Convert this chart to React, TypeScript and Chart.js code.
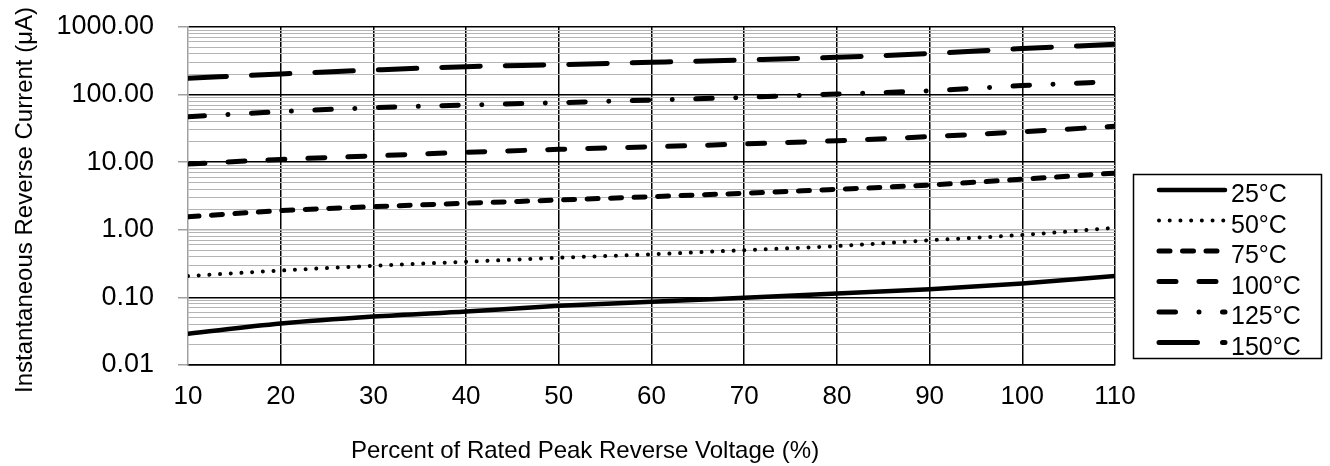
import React, { useEffect, useRef } from 'react';
import { Chart, registerables } from 'chart.js';

Chart.register(...registerables);

// ---------- data ----------
const voltagePct = [10, 20, 30, 40, 50, 60, 70, 80, 90, 100, 110];
const seriesLabels = ['25°C', '50°C', '75°C', '100°C', '125°C', '150°C'];
const current25 = [0.029, 0.041, 0.052, 0.062, 0.075, 0.086, 0.099, 0.114, 0.132, 0.161, 0.207];
const current50 = [0.207, 0.25, 0.294, 0.337, 0.386, 0.434, 0.5, 0.575, 0.7, 0.84, 1.07];
const current75 = [1.56, 1.92, 2.2, 2.47, 2.76, 3.09, 3.47, 3.97, 4.6, 5.6, 6.9];
const current100 = [9.4, 11.0, 12.4, 14.0, 15.5, 16.9, 18.6, 20.8, 23.9, 28.2, 34];
const current125 = [47, 56, 64, 70, 76, 83, 91, 102, 114, 136, 156];
const current150 = [174, 202, 231, 259, 277, 300, 325, 356, 405, 479, 557];
const yMajorTicks = [0.01, 0.1, 1, 10, 100, 1000];
const yMinorMultipliers = [2, 3, 4, 5, 6, 7, 8, 9];
const xTickValues = [10, 20, 30, 40, 50, 60, 70, 80, 90, 100, 110];
const yTitle = 'Instantaneous Reverse Current (μA)';
const xTitle = 'Percent of Rated Peak Reverse Voltage (%)';

const allSeries = [current25, current50, current75, current100, current125, current150];

// ---------- styles ----------
const FONT = '"Liberation Sans", Arial, sans-serif';
const lineStyles = [
  { width: 4.5, dash: [] as number[] },
  { width: 4, dash: [0.01, 10.7] },
  { width: 5, dash: [11, 12.5] },
  { width: 5, dash: [17, 23] },
  { width: 5, dash: [16.5, 23.5, 0.01, 23.5] },
  { width: 5, dash: [38.5, 25] },
];
const GRID_MINOR = '#b4b4b4';
const GRID_MAJOR = '#000000';
const AXIS_GRAY = '#a0a0a0';

const yTickList: number[] = (() => {
  const out: number[] = [];
  for (let i = 0; i < yMajorTicks.length; i++) {
    const base = yMajorTicks[i];
    out.push(base);
    if (i < yMajorTicks.length - 1) {
      for (const m of yMinorMultipliers) out.push(Number((base * m).toPrecision(6)));
    }
  }
  return out;
})();

const isMajorY = (v: number) => yMajorTicks.includes(v);

const overlayPlugin = {
  id: 'overlayText',
  afterDraw(chart: any) {
    const ctx = chart.ctx as CanvasRenderingContext2D;
    ctx.save();
    // y title
    ctx.fillStyle = '#000';
    ctx.font = `24px ${FONT}`;
    ctx.textAlign = 'center';
    ctx.textBaseline = 'alphabetic';
    ctx.save();
    ctx.translate(32, 200);
    ctx.rotate(-Math.PI / 2);
    ctx.fillText(yTitle, 0, 0);
    ctx.restore();
    // x title
    ctx.fillText(xTitle, 585, 458);

    // legend box
    const bx = 1133.5, by = 174.5, bw = 188, bh = 184;
    ctx.lineWidth = 1.5;
    ctx.strokeStyle = '#000';
    ctx.setLineDash([]);
    ctx.strokeRect(bx, by, bw, bh);

    ctx.font = `25px ${FONT}`;
    ctx.textAlign = 'left';
    seriesLabels.forEach((label, i) => {
      const cy = 190 + i * 30.5;
      const st = lineStyles[i];
      ctx.save();
      ctx.beginPath();
      ctx.lineWidth = st.width;
      ctx.lineCap = 'round';
      ctx.setLineDash(st.dash);
      ctx.strokeStyle = '#000';
      ctx.moveTo(1159, cy);
      ctx.lineTo(1225, cy);
      ctx.stroke();
      ctx.restore();
      ctx.fillStyle = '#000';
      ctx.fillText(label, 1231, cy + 12);
    });
    ctx.restore();
  },
};

export default function App() {
  const ref = useRef<HTMLCanvasElement>(null);
  useEffect(() => {
    const canvas = ref.current;
    if (!canvas) return;
    const chart = new Chart(canvas, {
      type: 'line',
      data: {
        datasets: allSeries.map((vals, i) => ({
          label: seriesLabels[i],
          data: vals.map((v, j) => ({ x: voltagePct[j], y: v })),
          borderColor: '#000',
          backgroundColor: '#000',
          borderWidth: lineStyles[i].width,
          borderDash: lineStyles[i].dash,
          borderCapStyle: 'round' as const,
          borderJoinStyle: 'round' as const,
          pointRadius: 0,
          pointHoverRadius: 0,
          cubicInterpolationMode: 'monotone' as const,
          fill: false,
        })),
      },
      options: {
        animation: false,
        responsive: true,
        maintainAspectRatio: false,
        events: [],
        layout: { padding: { left: 0, top: 27, right: 215, bottom: 0 } },
        plugins: {
          legend: { display: false },
          tooltip: { enabled: false },
          title: { display: false },
        },
        scales: {
          x: {
            type: 'linear',
            min: 10,
            max: 110,
            afterFit: (scale: any) => {
              scale.height = 101;
              scale.paddingLeft = 0;
              scale.paddingRight = 30;
            },
            afterBuildTicks: (scale: any) => {
              scale.ticks = xTickValues.map((v) => ({ value: v }));
            },
            ticks: {
              autoSkip: false,
              maxRotation: 0,
              padding: 16,
              color: '#000',
              font: { family: FONT, size: 26 },
              callback: (v: any) => String(v),
            },
            grid: {
              drawTicks: false,
              color: (c: any) => (c.tick && c.tick.value === 10 ? 'rgba(0,0,0,0)' : GRID_MAJOR),
              lineWidth: 1.5,
            },
            border: { display: true, color: '#000', width: 1.5 },
          },
          y: {
            type: 'logarithmic',
            min: 0.01,
            max: 1000,
            afterFit: (scale: any) => {
              scale.width = 188;
              scale.paddingTop = 10;
              scale.paddingBottom = 10;
            },
            afterBuildTicks: (scale: any) => {
              scale.ticks = yTickList.map((v) => ({ value: v, major: isMajorY(v) }));
            },
            ticks: {
              autoSkip: false,
              padding: 24,
              color: '#000',
              font: { family: FONT, size: 27 },
              callback: (v: any) => (isMajorY(Number(v)) ? Number(v).toFixed(2) : ''),
            },
            grid: {
              tickLength: 10,
              color: (c: any) => {
                const v = c.tick ? c.tick.value : 0;
                return isMajorY(v) && v !== 1 ? GRID_MAJOR : GRID_MINOR;
              },
              lineWidth: (c: any) => {
                const v = c.tick ? c.tick.value : 0;
                return isMajorY(v) ? 1.5 : 1;
              },
              tickColor: (c: any) => {
                const v = c.tick ? c.tick.value : 0;
                return isMajorY(v) ? AXIS_GRAY : 'rgba(0,0,0,0)';
              },
              tickWidth: 1.5,
            },
            border: { display: true, color: AXIS_GRAY, width: 1.5 },
          },
        },
      },
      plugins: [overlayPlugin],
    });
    return () => chart.destroy();
  }, []);
  return (
    <div style={{ position: 'fixed', left: 0, top: 0, width: 1330, height: 466, background: '#fff' }}>
      <canvas ref={ref} />
    </div>
  );
}
